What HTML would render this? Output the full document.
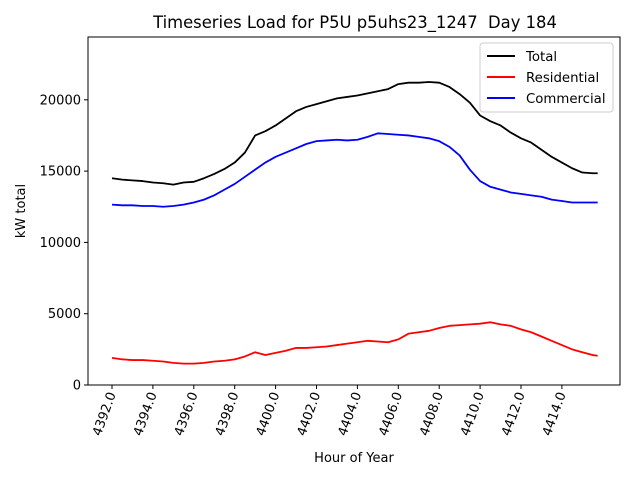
<!DOCTYPE html>
<html><head><meta charset="utf-8"><style>
body{margin:0;background:#fff;font-family:"DejaVu Sans","Liberation Sans",sans-serif;}
svg text{font-family:"DejaVu Sans","Liberation Sans",sans-serif;white-space:pre;}
</style></head><body>
<svg id="chart" width="640" height="480" xmlns="http://www.w3.org/2000/svg">
<rect width="640" height="480" fill="#fff"/>
<text x="355" y="28" font-size="16.4" text-anchor="middle">Timeseries Load for P5U p5uhs23_1247  Day 184</text>
<g id="plot"></g>
<rect x="88" y="37" width="532" height="348" fill="none" stroke="#000" stroke-width="1"/>
<text transform="translate(25,211) rotate(-90)" font-size="13" text-anchor="middle">kW total</text>
<text x="354" y="462" font-size="13" text-anchor="middle">Hour of Year</text>
<g>
<rect x="480" y="43" width="133" height="69" rx="3" fill="#fff" fill-opacity="0.8" stroke="#ccc"/>
<line x1="487" y1="56" x2="515" y2="56" stroke="#000" stroke-width="2"/>
<text x="526" y="61" font-size="13.3">Total</text>
<line x1="487" y1="77" x2="515" y2="77" stroke="#f00" stroke-width="2"/>
<text x="526" y="82" font-size="13.3">Residential</text>
<line x1="487" y1="98" x2="515" y2="98" stroke="#00f" stroke-width="2"/>
<text x="526" y="103" font-size="13.3">Commercial</text>
</g>
</svg>
<script>
const hours=[];for(let i=0;i<48;i++)hours.push(4392+i*0.5);hours.push(4415.75);
const total=[14500,14400,14350,14300,14200,14150,14050,14200,14250,14500,14800,15150,15600,16300,17500,17800,18200,18700,19200,19500,19700,19900,20100,20200,20300,20450,20600,20750,21100,21200,21200,21250,21200,20900,20400,19800,18900,18500,18200,17700,17300,17000,16500,16000,15600,15200,14900,14850,14850];
const residential=[1900,1800,1750,1750,1700,1650,1550,1500,1500,1550,1650,1700,1800,2000,2300,2100,2250,2400,2600,2600,2650,2700,2800,2900,3000,3100,3050,3000,3200,3600,3700,3800,4000,4150,4200,4250,4300,4400,4250,4150,3900,3700,3400,3100,2800,2500,2300,2100,2050];
const commercial=[12650,12600,12600,12550,12550,12500,12550,12650,12800,13000,13300,13700,14100,14600,15100,15600,16000,16300,16600,16900,17100,17150,17200,17150,17200,17400,17650,17600,17550,17500,17400,17300,17100,16700,16100,15100,14300,13900,13700,13500,13400,13300,13200,13000,12900,12800,12800,12800,12800];
const xTicks=[4392,4394,4396,4398,4400,4402,4404,4406,4408,4410,4412,4414];
const yTicks=[0,5000,10000,15000,20000];
const X=h=>112+(h-4392)*20.45;
const Y=v=>385-v*71.3/5000;
const NS="http://www.w3.org/2000/svg";
const g=document.getElementById('plot');
yTicks.forEach(v=>{
  const l=document.createElementNS(NS,'line');
  
  
  l.setAttribute('x1',84);l.setAttribute('x2',88);l.setAttribute('y1',Y(v));l.setAttribute('y2',Y(v));l.setAttribute('stroke','#000');g.appendChild(l);
  const t=document.createElementNS(NS,'text');
  
  
  t.setAttribute('x',81);t.setAttribute('y',Y(v)+4.5);t.setAttribute('font-size','13');t.setAttribute('text-anchor','end');t.textContent=v;g.appendChild(t);
});
xTicks.forEach(h=>{
  const l=document.createElementNS(NS,'line');
  
  
  l.setAttribute('x1',X(h));l.setAttribute('x2',X(h));l.setAttribute('y1',385);l.setAttribute('y2',389);l.setAttribute('stroke','#000');g.appendChild(l);
  const t=document.createElementNS(NS,'text');
  
  
  t.setAttribute('transform','translate('+(X(h)+4)+',394) rotate(-70)');t.setAttribute('font-size','13');t.setAttribute('text-anchor','end');t.textContent=h.toFixed(1);g.appendChild(t);
});
function line(vals,color,name){
  const p=document.createElementNS(NS,'polyline');
  
  
  p.setAttribute('points',vals.map((v,i)=>X(hours[i])+','+Y(v)).join(' '));
  p.setAttribute('fill','none');p.setAttribute('stroke',color);p.setAttribute('stroke-width','1.8');p.setAttribute('stroke-linejoin','round');
  g.appendChild(p);
}
line(total,'#000','total-line');
line(residential,'#f00','residential-line');
line(commercial,'#00f','commercial-line');
</script>
</body></html>
